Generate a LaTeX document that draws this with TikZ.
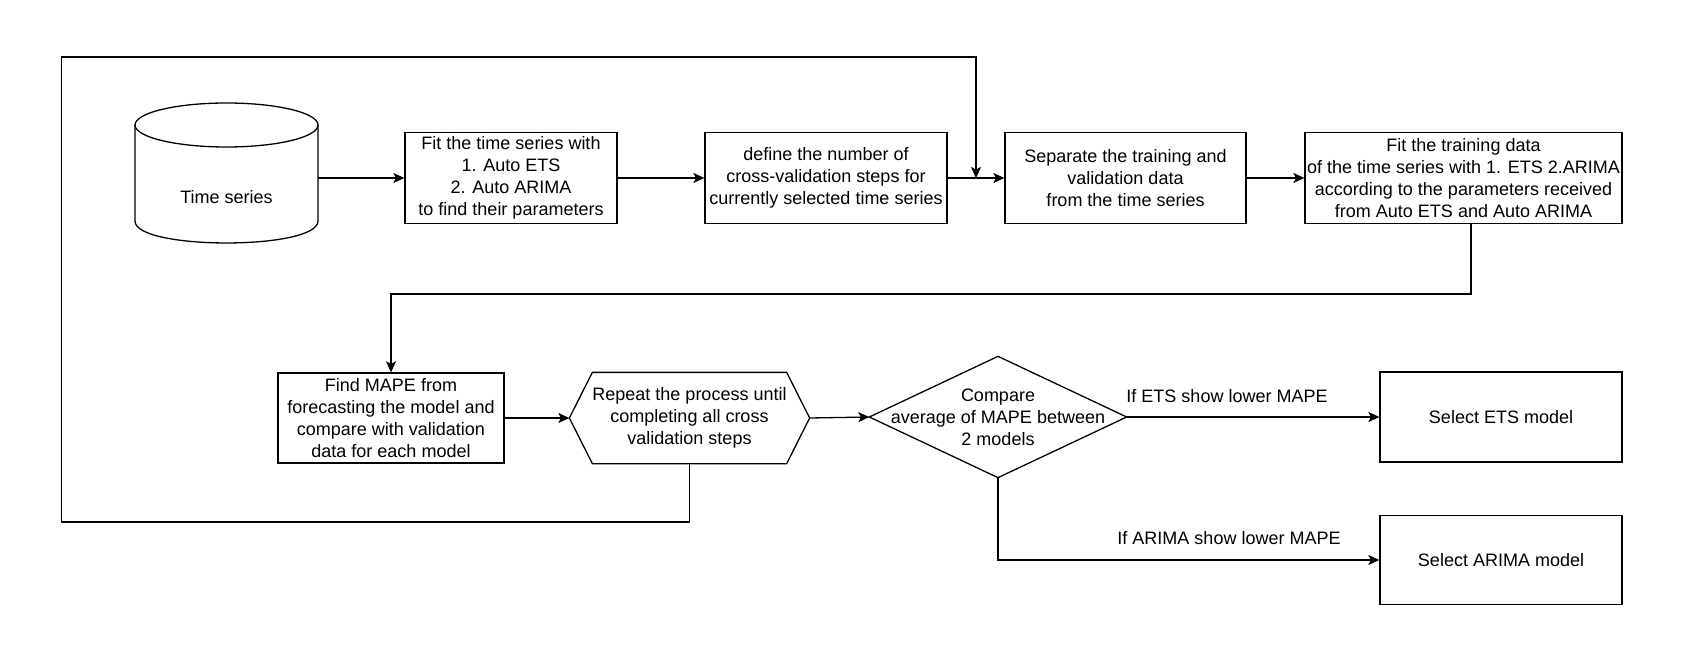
\documentclass[tikz,border=0pt]{standalone}
\usepackage{fontspec}
\setmainfont{Liberation Sans}
\usetikzlibrary{arrows.meta}
\begin{document}
\begin{tikzpicture}[x=0.5pt,y=-0.5pt,line width=0.65pt,
  every node/.style={font=\fontsize{9}{11}\selectfont,align=center,inner sep=0pt},
  box/.style={draw,minimum height=45.5pt},
  arr/.style={-{Stealth[length=5.5pt,width=5pt,inset=1.3pt]}}]
\useasboundingbox (0,0) rectangle (1695,657);
% data store
\draw (135,125) -- (135,221) .. controls (135,250.3) and (318,250.3) .. (318,221) -- (318,125);
\draw (226.5,125) ellipse [x radius=91.5,y radius=22];
\node (ts) at (226.5,197) {Time series};
\coordinate (tsE) at (318,178);
% first row
\node[box,minimum width=106pt] (fit) at (511,178) {Fit the time series with\\1. Auto ETS\\2. Auto ARIMA\\to find their parameters};
\node[box,minimum width=121pt] (cv) at (826,178) {define the number of\\cross-validation steps for\\currently selected time series};
\node[box,minimum width=120.5pt] (sep) at (1125.5,178) {Separate the training and\\validation data\\from the time series};
\node[box,minimum width=158.5pt] (train) at (1463.5,178) {Fit the training data\\of the time series with 1. ETS 2.ARIMA\\according to the parameters received\\from Auto ETS and Auto ARIMA};
% second row
\node[box,minimum width=113pt,minimum height=45pt] (mape) at (391,418) {Find MAPE from\\forecasting the model and\\compare with validation\\data for each model};
\node[minimum width=119.5pt,minimum height=45pt] (rep) at (689.5,418) {Repeat the process until\\completing all cross\\validation steps};
\draw (rep.west) -- ([xshift=11.5pt]rep.north west) -- ([xshift=-11.5pt]rep.north east) -- (rep.east)
  -- ([xshift=-11.5pt]rep.south east) -- ([xshift=11.5pt]rep.south west) -- cycle;
\node[minimum width=128pt,minimum height=60pt] (cmp) at (998,417) {Compare\\average of MAPE between\\2 models};
\draw (cmp.west) -- (cmp.north) -- (cmp.east) -- (cmp.south) -- cycle;
\node[box,minimum width=121pt,minimum height=45pt] (ets) at (1501,417) {Select ETS model};
\node[box,minimum width=121pt,minimum height=44.5pt] (arima) at (1501,560) {Select ARIMA model};
% connectors
\draw[arr] (tsE) -- (fit);
\draw[arr] (fit) -- (cv);
\draw[arr] (cv) -- (sep);
\draw[arr] (sep) -- (train);
\coordinate (turn) at (1471,294);
\draw[arr] (train.south -| turn) -- (turn) -| (mape);
\draw[arr] (mape) -- (rep.west);
\draw[arr] (rep.east) -- (cmp.west);
\draw[arr] (cmp.east) -- (ets);
\draw[arr] (cmp.south) |- (arima);
\node (lets) at (1227,396) {If ETS show lower MAPE};
\node (larima) at (1229,538) {If ARIMA show lower MAPE};
% loop back
\coordinate (lb) at (61.5,522);
\coordinate (lt) at (61.5,57);
\coordinate (j) at (976,178);
\draw[arr] (rep.south) |- (lb) -- (lt) -| (j);
\end{tikzpicture}
\end{document}
